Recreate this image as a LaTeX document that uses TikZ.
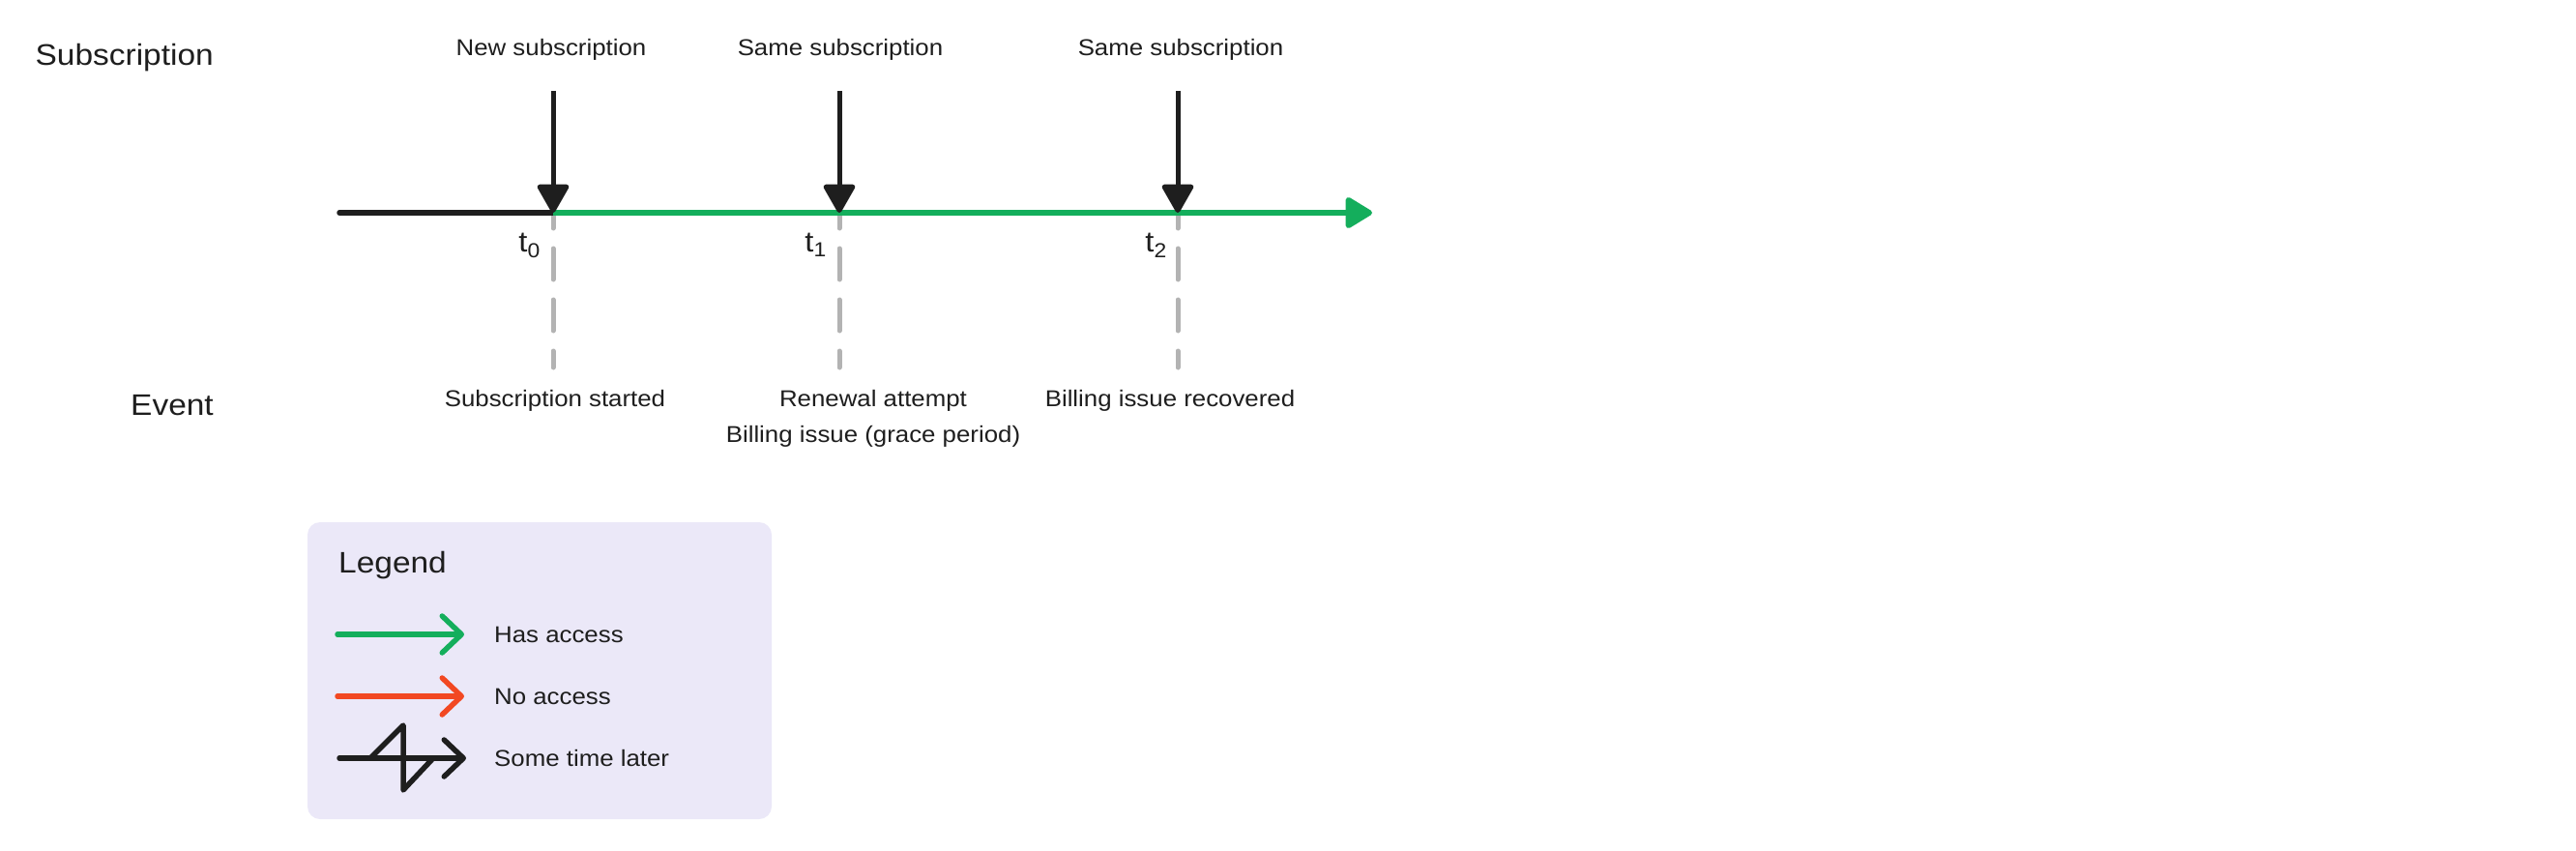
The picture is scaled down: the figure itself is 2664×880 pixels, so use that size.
\documentclass[tikz,border=0pt]{standalone}
\usepackage{fontspec}
\setmainfont{Liberation Sans}[FakeStretch=1.09]
\usetikzlibrary{arrows.meta}
\definecolor{ink}{HTML}{1E1E1E}
\definecolor{accgreen}{HTML}{14AE5C}
\definecolor{accred}{HTML}{F24822}
\definecolor{dashgray}{HTML}{B3B3B3}
\definecolor{legendbg}{HTML}{EBE8F8}
\begin{document}
\begin{tikzpicture}[x=1pt,y=-1pt,
  small/.style={inner sep=0pt, anchor=base, text=ink, font=\fontsize{23.7}{28}\selectfont},
  large/.style={inner sep=0pt, anchor=base east, text=ink, font=\fontsize{30.7}{36}\selectfont},
  tlabel/.style={inner sep=0pt, anchor=base east, text=ink, font=\fontsize{30}{36}\selectfont},
  pointer/.style={draw=ink, line width=5pt, -{Triangle[width=35pt,length=32pt,round]}},
  guide/.style={draw=dashgray, line width=5pt, line cap=round, dash pattern=on 32pt off 21pt, dash phase=16pt},
  legarrow/.style={line width=5.5pt, line cap=round, line join=round, -{Straight Barb[length=20pt,width=38pt,round]}}
]
\fill[white] (0,0) rectangle (2664,880);
\useasboundingbox (0,0) rectangle (2664,880);

% row labels
\node[large] (lsub) at (221,68) {Subscription};
\node[large] (levt) at (221,429) {Event};

% timeline points
\coordinate (start) at (351,220);
\coordinate (p0) at (572,220);
\coordinate (p1) at (868,220);
\coordinate (p2) at (1218,220);
\coordinate (tend) at (1419,220);

% arrow origins
\coordinate (a0) at (572,94);
\coordinate (a1) at (868,94);
\coordinate (a2) at (1218,94);

% dashed guide ends
\coordinate (g0) at (572,380);
\coordinate (g1) at (868,380);
\coordinate (g2) at (1218,380);

% dashed guides
\draw[guide] (p0) -- (g0);
\draw[guide] (p1) -- (g1);
\draw[guide] (p2) -- (g2);

% timeline
\draw[ink, line width=5.5pt, line cap=round] (start) -- (p0);
\draw[accgreen, line width=5.5pt, -{Triangle[width=35pt,length=30pt,round]}] (p0) -- (tend);

% pointers
\draw[pointer] (a0) -- (p0);
\draw[pointer] (a1) -- (p1);
\draw[pointer] (a2) -- (p2);

% top labels
\node[small] (n0) at (570,58) {New subscription};
\node[small] (n1) at (869,58) {Same subscription};
\node[small] (n2) at (1221,58) {Same subscription};

% t labels
\node[tlabel] (t0) at (559,260) {t\textsubscript{0}};
\node[tlabel] (t1) at (855,260) {t\textsubscript{1}};
\node[tlabel] (t2) at (1207,260) {t\textsubscript{2}};

% event labels
\node[small] (e0) at (574,420) {Subscription started};
\node[small] (e1) at (903,420) {Renewal attempt};
\node[small] (e1b) at (903,457) {Billing issue (grace period)};
\node[small] (e2) at (1210,420) {Billing issue recovered};

% legend
\fill[legendbg, rounded corners=13pt] (318,540) rectangle (798,847);
\node[inner sep=0pt, anchor=base west, text=ink, font=\fontsize{30.7}{36}\selectfont] (leg) at (350,592) {Legend};

\coordinate (la0) at (349,656);
\coordinate (lb0) at (480,656);
\coordinate (la1) at (349,720);
\coordinate (lb1) at (480,720);
\coordinate (la2) at (351,784);
\coordinate (lb2) at (482,784);

\draw[legarrow, accgreen] (la0) -- (lb0);
\draw[legarrow, accred] (la1) -- (lb1);
\draw[legarrow, ink] (la2) -- (lb2);
\draw[ink, line width=5.5pt, line cap=round, line join=round]
  (383,784) -- (417,750) -- (417,817) -- (448,784);

\node[small, anchor=base west] (h1) at (511,664) {Has access};
\node[small, anchor=base west] (h2) at (511,728) {No access};
\node[small, anchor=base west] (h3) at (511,792) {Some time later};
\end{tikzpicture}
\end{document}
